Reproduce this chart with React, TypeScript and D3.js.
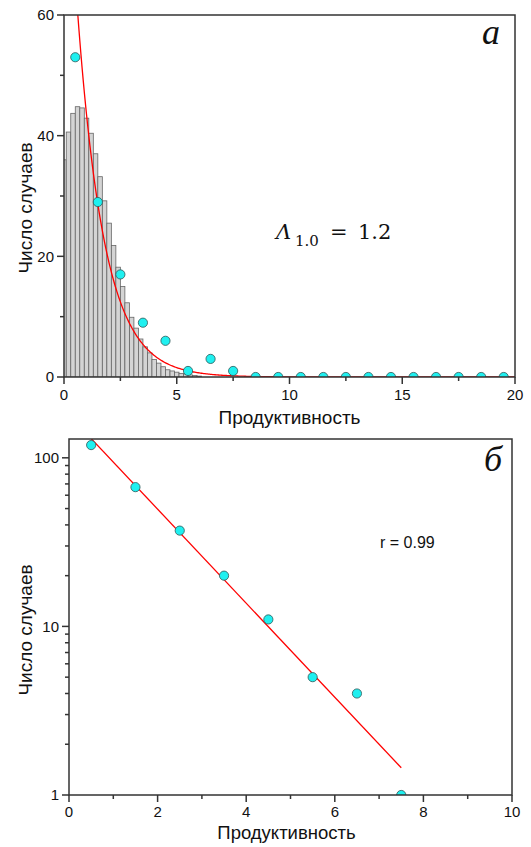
import React from "react";
import * as d3 from "d3";

// ---- Panel a data ----
const histCenters = [0, 0.2, 0.4, 0.6, 0.8, 1.0, 1.2, 1.4, 1.6, 1.8, 2.0, 2.2, 2.4, 2.6, 2.8, 3.0, 3.2, 3.4, 3.6, 3.8, 4.0, 4.2, 4.4, 4.6, 4.8, 5.0, 5.2, 5.4, 5.6, 5.8, 6.0];
const histValues = [36, 40.6, 43.7, 44.8, 44.6, 42.9, 40.4, 37.0, 33.2, 29.2, 25.5, 21.8, 18.2, 15.0, 12.3, 9.9, 8.1, 6.3, 5.0, 4.0, 2.9, 2.3, 1.7, 1.2, 1.0, 0.8, 0.6, 0.5, 0.35, 0.25, 0.15];
const histBinWidth = 0.2;
const pointsAX = [0.5, 1.5, 2.5, 3.5, 4.5, 5.5, 6.5, 7.5, 8.5, 9.5, 10.5, 11.5, 12.5, 13.5, 14.5, 15.5, 16.5, 17.5, 18.5, 19.5];
const pointsAY = [53, 29, 17, 9, 6, 1, 3, 1, 0, 0, 0, 0, 0, 0, 0, 0, 0, 0, 0, 0];
const fitAmplitude = 100;
const fitLambda = 1.2;
const xTicksA = [0, 5, 10, 15, 20];
const xMinorA = [2.5, 7.5, 12.5, 17.5];
const yTicksA = [0, 20, 40, 60];
const yMinorA = [10, 30, 50];

// ---- Panel б data ----
const pointsBX = [0.5, 1.5, 2.5, 3.5, 4.5, 5.5, 6.5, 7.5];
const pointsBY = [119, 67, 37, 20, 11, 5, 4, 1];
const fitBX = [0.5, 7.5];
const fitBY = [130, 1.45];
const xTicksB = [0, 2, 4, 6, 8, 10];
const xMinorB = [1, 3, 5, 7, 9];
const yTicksB = [1, 10, 100];
const yMinorB = [2, 3, 4, 5, 6, 7, 8, 9, 20, 30, 40, 50, 60, 70, 80, 90];

const AX = "#333";
const CYAN = "#1ff0f0";
const PSTROKE = "#2f5757";
const SANS = "'Liberation Sans', Arial, sans-serif";
const SERIF = "'Liberation Serif', 'DejaVu Serif', serif";
const MATH = "'DejaVu Serif', serif";

export default function App() {
  // Panel a geometry
  const aL = 64, aR = 515, aT = 15, aB = 377;
  const xA = d3.scaleLinear().domain([0, 20]).range([aL, aR]);
  const yA = d3.scaleLinear().domain([0, 60]).range([aB, aT]);
  const curveXs = d3.range(0, 20.001, 0.05);
  const fitLineA = d3
    .line<number>()
    .x((d) => xA(d))
    .y((d) => yA(fitAmplitude * Math.exp(-d / fitLambda)));

  // Panel b geometry
  const bL = 69, bR = 512, bT = 439, bB = 795;
  const xB = d3.scaleLinear().domain([0, 10]).range([bL, bR]);
  const yB = d3.scaleLog().domain([1, 129.3]).range([bB, bT]);
  const fitLineB = d3
    .line<number>()
    .x((_, i) => xB(fitBX[i]))
    .y((d) => yB(d));

  return (
    <svg
      width={531}
      height={847}
      style={{ position: "absolute", left: 0, top: 0, background: "#fff" }}
      fontFamily={SANS}
    >
      <defs>
        <clipPath id="clipA">
          <rect x={aL} y={aT} width={aR - aL} height={aB - aT} />
        </clipPath>
        <clipPath id="clipB">
          <rect x={bL} y={bT} width={bR - bL} height={bB - bT} />
        </clipPath>
      </defs>

      {/* ===== Panel a ===== */}
      <g clipPath="url(#clipA)">
        {histValues.map((v, i) => (
          <rect
            key={i}
            x={xA(histCenters[i] - histBinWidth / 2)}
            y={yA(v)}
            width={xA(histBinWidth) - xA(0)}
            height={yA(0) - yA(v)}
            fill="#d4d4d4"
            stroke="#666"
            strokeWidth={0.8}
          />
        ))}
        <path d={fitLineA(curveXs) || ""} fill="none" stroke="#ff0000" strokeWidth={1.3} />
        {pointsAX.map((x, i) => (
          <circle key={i} cx={xA(x)} cy={yA(pointsAY[i])} r={4.6} fill={CYAN} stroke={PSTROKE} strokeWidth={0.8} />
        ))}
      </g>
      <rect x={aL} y={aT} width={aR - aL} height={aB - aT} fill="none" stroke={AX} strokeWidth={1.5} />
      {yTicksA.map((t) => (
        <g key={t}>
          <line x1={aL - 7} x2={aL} y1={yA(t)} y2={yA(t)} stroke={AX} strokeWidth={1.5} />
          <text x={aL - 10} y={yA(t)} dy="0.35em" textAnchor="end" fontSize={15} fill="#111">
            {t}
          </text>
        </g>
      ))}
      {yMinorA.map((t) => (
        <line key={t} x1={aL - 4} x2={aL} y1={yA(t)} y2={yA(t)} stroke={AX} strokeWidth={1.5} />
      ))}
      {xTicksA.map((t) => (
        <g key={t}>
          <line x1={xA(t)} x2={xA(t)} y1={aB} y2={aB + 7} stroke={AX} strokeWidth={1.5} />
          <text x={xA(t)} y={aB + 23} textAnchor="middle" fontSize={15} fill="#111">
            {t}
          </text>
        </g>
      ))}
      {xMinorA.map((t) => (
        <line key={t} x1={xA(t)} x2={xA(t)} y1={aB} y2={aB + 4} stroke={AX} strokeWidth={1.5} />
      ))}
      <text x={(aL + aR) / 2} y={424} textAnchor="middle" fontSize={19} fill="#111">
        Продуктивность
      </text>
      <text transform={`translate(32,208) rotate(-90)`} textAnchor="middle" fontSize={19} fill="#111">
        Число случаев
      </text>
      <text x={500} y={44} textAnchor="end" fontSize={36} fontStyle="italic" fontFamily={SERIF} fill="#111">
        а
      </text>
      <g fontFamily={MATH} fill="#111">
        <text x={276} y={239} fontSize={21} fontStyle="italic">Λ</text>
        <text x={295} y={246} fontSize={15}>1.0</text>
        <text x={330} y={239} fontSize={21}>=</text>
        <text x={358} y={239} fontSize={21}>1.2</text>
      </g>

      {/* ===== Panel б ===== */}
      <g clipPath="url(#clipB)">
        <path d={fitLineB(fitBY) || ""} fill="none" stroke="#ff0000" strokeWidth={1.3} />
        {pointsBX.map((x, i) => (
          <circle key={i} cx={xB(x)} cy={yB(pointsBY[i])} r={4.6} fill={CYAN} stroke={PSTROKE} strokeWidth={0.8} />
        ))}
      </g>
      <rect x={bL} y={bT} width={bR - bL} height={bB - bT} fill="none" stroke={AX} strokeWidth={1.5} />
      {yTicksB.map((t) => (
        <g key={t}>
          <line x1={bL - 7} x2={bL} y1={yB(t)} y2={yB(t)} stroke={AX} strokeWidth={1.5} />
          <text x={bL - 10} y={yB(t)} dy="0.35em" textAnchor="end" fontSize={15} fill="#111">
            {t}
          </text>
        </g>
      ))}
      {yMinorB.map((t) => (
        <line key={t} x1={bL - 4} x2={bL} y1={yB(t)} y2={yB(t)} stroke={AX} strokeWidth={1.5} />
      ))}
      {xTicksB.map((t) => (
        <g key={t}>
          <line x1={xB(t)} x2={xB(t)} y1={bB} y2={bB + 7} stroke={AX} strokeWidth={1.5} />
          <text x={xB(t)} y={bB + 22} textAnchor="middle" fontSize={15} fill="#111">
            {t}
          </text>
        </g>
      ))}
      {xMinorB.map((t) => (
        <line key={t} x1={xB(t)} x2={xB(t)} y1={bB} y2={bB + 4} stroke={AX} strokeWidth={1.5} />
      ))}
      <text x={(bL + bR) / 2 - 4} y={839} textAnchor="middle" fontSize={18.5} fill="#111">
        Продуктивность
      </text>
      <text transform={`translate(32,630) rotate(-90)`} textAnchor="middle" fontSize={19} fill="#111">
        Число случаев
      </text>
      <text x={502} y={471} textAnchor="end" fontSize={36} fontStyle="italic" fontFamily={SERIF} fill="#111">
        б
      </text>
      <text x={380} y={548} fontSize={16} fill="#111">
        r = 0.99
      </text>
    </svg>
  );
}
